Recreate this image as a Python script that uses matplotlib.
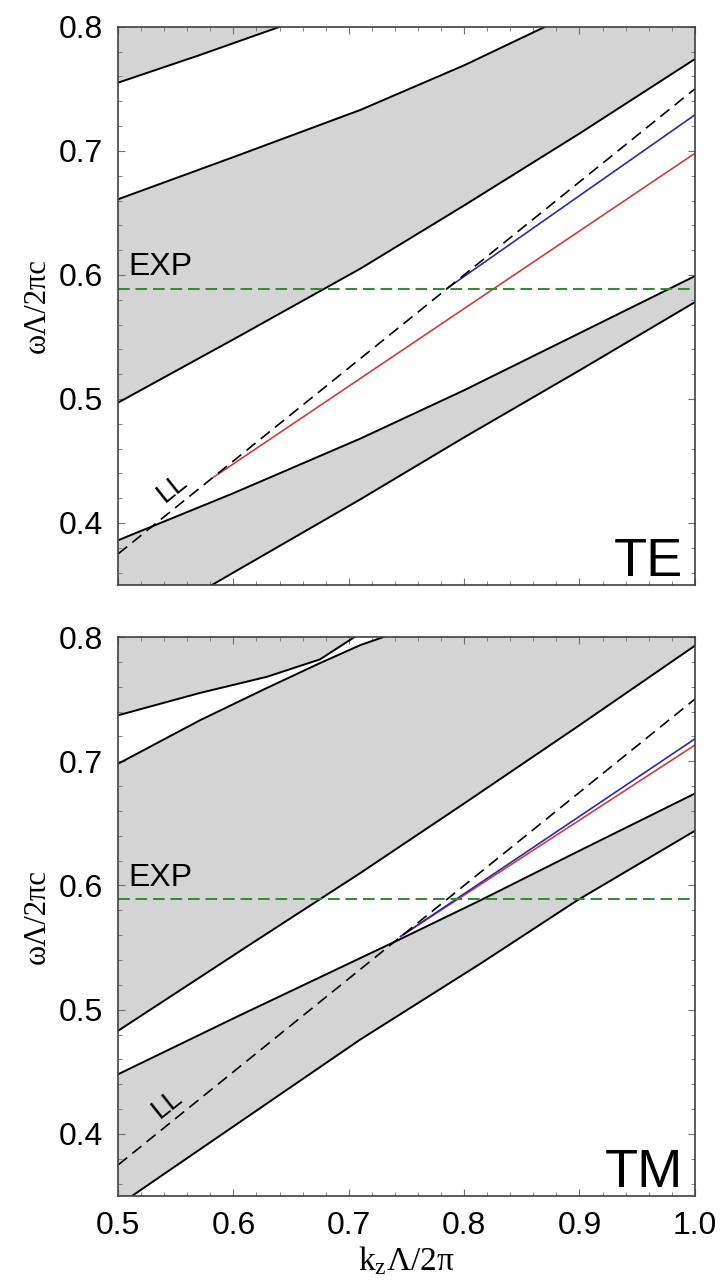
import matplotlib
matplotlib.use("Agg")
import matplotlib.pyplot as plt
import numpy as np
from matplotlib.ticker import MultipleLocator

plt.rcParams['font.family'] = ['Liberation Sans', 'DejaVu Sans']
plt.rcParams['mathtext.fontset'] = 'custom'
plt.rcParams['mathtext.rm'] = 'Liberation Serif'
plt.rcParams['mathtext.it'] = 'Liberation Serif'

# light line (LL) and experiment frequency
ll_x = [0.5, 1.0]
ll_y = [0.375, 0.75]
exp_y = 0.589

# ---- TE band edges ----
te_b1_x = [0.5, 0.57, 0.64, 0.7]
te_b1_y = [0.755, 0.777, 0.800, 0.821]
te_b2_x = [0.5, 0.6, 0.71, 0.8, 0.87, 0.95]
te_b2_y = [0.661, 0.695, 0.733, 0.769, 0.800, 0.835]
te_b3_x = [0.5, 0.6, 0.71, 0.8, 0.9, 1.0]
te_b3_y = [0.497, 0.548, 0.605, 0.656, 0.714, 0.774]
te_b4_x = [0.5, 0.6, 0.71, 0.8, 0.9, 1.0]
te_b4_y = [0.386, 0.424, 0.468, 0.507, 0.553, 0.599]
te_b5_x = [0.5, 0.6, 0.71, 0.8, 0.9, 1.0]
te_b5_y = [0.306, 0.360, 0.419, 0.469, 0.523, 0.578]
te_red_x = [0.583, 1.0]
te_red_y = [0.437, 0.698]
te_blue_x = [0.785, 1.0]
te_blue_y = [0.589, 0.729]

# ---- TM band edges ----
tm_a_x = [0.5, 0.571, 0.629, 0.675, 0.705, 0.75]
tm_a_y = [0.737, 0.755, 0.768, 0.782, 0.800, 0.825]
tm_b_x = [0.5, 0.571, 0.629, 0.675, 0.71, 0.73, 0.8, 1.0]
tm_b_y = [0.698, 0.733, 0.759, 0.779, 0.7935, 0.800, 0.826, 0.900]
tm_c_x = [0.5, 0.612, 0.71, 0.8, 0.9, 1.0]
tm_c_y = [0.483, 0.551, 0.610, 0.666, 0.729, 0.793]
tm_d_x = [0.5, 0.6, 0.745, 0.814, 0.9, 1.0]
tm_d_y = [0.448, 0.493, 0.557, 0.588, 0.628, 0.674]
tm_e_x = [0.5, 0.512, 0.6, 0.71, 0.814, 0.898, 1.0]
tm_e_y = [0.342, 0.350, 0.406, 0.476, 0.537, 0.588, 0.644]
tm_red_x = [0.745, 1.0]
tm_red_y = [0.559, 0.713]
tm_blue_x = [0.745, 1.0]
tm_blue_y = [0.559, 0.718]

gray = '#d4d4d4'
lw = 1.4


def band(ax, xu, yu, xl, yl):
    # fill the polygon between an upper and a lower edge
    px = np.concatenate([xu, xl[::-1]])
    py = np.concatenate([yu, yl[::-1]])
    ax.fill(px, py, color=gray, lw=0, zorder=1)


def setup(ax, name, ll_pos):
    ax.set_xlim(0.5, 1.0)
    ax.set_ylim(0.35, 0.8)
    ax.xaxis.set_major_locator(MultipleLocator(0.1))
    ax.xaxis.set_minor_locator(MultipleLocator(0.02))
    ax.yaxis.set_major_locator(MultipleLocator(0.1))
    ax.yaxis.set_minor_locator(MultipleLocator(0.02))
    ax.tick_params(which='both', direction='in', top=True, right=True,
                   color='#707070', labelsize=23, pad=11)
    ax.tick_params(which='major', length=5, width=0.8)
    ax.tick_params(which='minor', length=3, width=0.6)
    for s in ax.spines.values():
        s.set_color('#404040')
        s.set_linewidth(1.2)
        s.set_zorder(5)
    ax.plot(ll_x, ll_y, color='k', lw=1.2, ls=(0, (7, 4)), zorder=3)
    ax.axhline(exp_y, color='#2e8b2e', lw=1.4, ls=(0, (6, 3)), zorder=3)
    ax.text(0.509, exp_y + 0.005, 'EXP', fontsize=23, ha='left', va='bottom', zorder=4)
    ax.text(ll_pos[0], ll_pos[1], 'LL', fontsize=20, rotation=38.5,
            ha='center', va='center', zorder=4)
    ax.text(0.99, 0.357, name, fontsize=39, ha='right', va='baseline', zorder=4)
    ax.set_ylabel('ωΛ/2πc', family=['Liberation Serif', 'DejaVu Serif'],
                  fontsize=22, labelpad=5)


fig = plt.figure(figsize=(7.21, 12.8), dpi=100)
ax1 = fig.add_axes([0.1637, 0.543, 0.800, 0.436])
ax2 = fig.add_axes([0.1637, 0.0656, 0.800, 0.4367])

# TE panel
a = ax1
band(a, np.array(te_b1_x), np.full(len(te_b1_x), 0.9), np.array(te_b1_x), np.array(te_b1_y))
band(a, np.array(te_b2_x[:-1] + [1.0]), np.array(te_b2_y[:-1] + [0.86]),
     np.array(te_b3_x), np.array(te_b3_y))
band(a, np.array(te_b4_x), np.array(te_b4_y), np.array(te_b5_x), np.array(te_b5_y))
for xs, ys in [(te_b1_x, te_b1_y), (te_b2_x, te_b2_y), (te_b3_x, te_b3_y),
               (te_b4_x, te_b4_y), (te_b5_x, te_b5_y)]:
    a.plot(xs, ys, color='k', lw=lw, zorder=2)
a.plot(te_red_x, te_red_y, color='#d63a3a', lw=1.2, zorder=3)
a.plot(te_blue_x, te_blue_y, color='#2a2ab0', lw=1.2, zorder=3)
setup(a, 'TE', (0.547, 0.428))
a.tick_params(labelbottom=False)

# TM panel
a = ax2
band(a, np.array(tm_a_x), np.full(len(tm_a_x), 0.9), np.array(tm_a_x), np.array(tm_a_y))
band(a, np.array(tm_b_x), np.array(tm_b_y), np.array(tm_c_x), np.array(tm_c_y))
band(a, np.array(tm_d_x), np.array(tm_d_y), np.array(tm_e_x), np.array(tm_e_y))
for xs, ys in [(tm_a_x, tm_a_y), (tm_b_x, tm_b_y), (tm_c_x, tm_c_y),
               (tm_d_x, tm_d_y), (tm_e_x, tm_e_y)]:
    a.plot(xs, ys, color='k', lw=lw, zorder=2)
a.plot(tm_red_x, tm_red_y, color='#d63a3a', lw=1.2, zorder=3)
a.plot(tm_blue_x, tm_blue_y, color='#2a2ab0', lw=1.2, zorder=3)
setup(a, 'TM', (0.543, 0.424))
a.set_xticks([0.5, 0.6, 0.7, 0.8, 0.9, 1.0])
a.set_xticklabels(['0.5', '0.6', '0.7', '0.8', '0.9', '1.0'])
a.set_xlabel(r'$\mathrm{k_{z}\Lambda/2\pi}$', fontsize=24, labelpad=2)

fig.savefig('out.png', dpi=100, facecolor='white')
